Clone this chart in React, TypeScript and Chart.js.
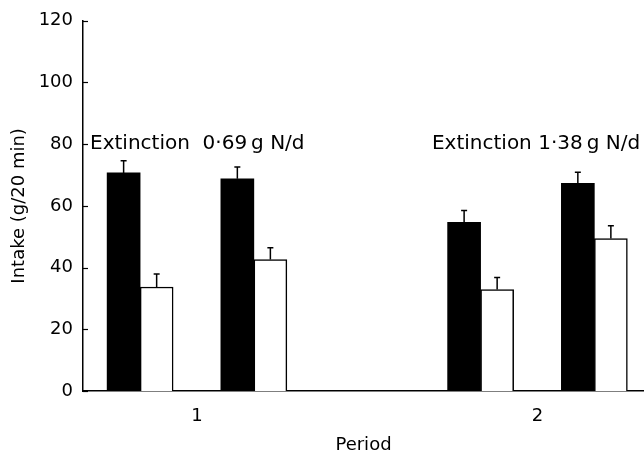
import React, { useEffect, useRef } from "react";
import { Chart, registerables } from "chart.js";

Chart.register(...registerables);

// ---- data ----
const periodLabels = ["1", "2"];
const periodValues = [1, 2];
// two pairs of bars in each period: [period1-left, period1-right, period2-left, period2-right]
const filledMeans = [70.7, 68.8, 54.7, 67.3];
const filledErrors = [3.9, 3.8, 3.8, 3.6];
const openMeans = [33.7, 42.6, 32.9, 49.4];
const openErrors = [4.2, 3.8, 3.9, 4.2];
const annotationTexts = ["Extinction  0·69\u2009g N/d", "Extinction 1·38\u2009g N/d"];
const annotationX = [0.6858, 1.69];
const annotationLevel = 80;

// layout constants (offsets of bars around each period position)
const pairCentre = [-0.167, 0.167];
const halfBar = 0.0485;

const FONT = '"DejaVu Sans", sans-serif';

function barPoints(means: number[], side: number) {
  return means.map((m, i) => {
    const p = periodValues[Math.floor(i / 2)];
    const pair = i % 2;
    return { x: p + pairCentre[pair] + side * halfBar, y: m };
  });
}

const errorBarPlugin = {
  id: "errorBars",
  afterDatasetsDraw(chart: any) {
    const ctx = chart.ctx;
    const y = chart.scales.y;
    ctx.save();
    ctx.strokeStyle = "#000";
    ctx.lineWidth = 1.5;
    chart.data.datasets.forEach((ds: any, di: number) => {
      const meta = chart.getDatasetMeta(di);
      meta.data.forEach((el: any, i: number) => {
        const top = y.getPixelForValue(ds.data[i].y + ds.errors[i]);
        ctx.beginPath();
        ctx.moveTo(el.x, el.y);
        ctx.lineTo(el.x, top);
        ctx.moveTo(el.x - 3, top);
        ctx.lineTo(el.x + 3, top);
        ctx.stroke();
      });
    });
    ctx.restore();
  },
};

const axisDecorPlugin = {
  id: "axisDecor",
  afterDraw(chart: any) {
    const ctx = chart.ctx;
    const y = chart.scales.y;
    const x = chart.scales.x;
    const area = chart.chartArea;
    ctx.save();
    ctx.strokeStyle = "#000";
    ctx.lineWidth = 1.2;
    y.ticks.forEach((t: any) => {
      const py = Math.round(y.getPixelForValue(t.value)) + 0.5;
      ctx.beginPath();
      ctx.moveTo(area.left, py);
      ctx.lineTo(area.left + 5, py);
      ctx.stroke();
    });
    ctx.fillStyle = "#000";
    ctx.font = "20px " + FONT;
    ctx.textAlign = "left";
    ctx.textBaseline = "middle";
    annotationTexts.forEach((txt, i) => {
      ctx.fillText(txt, x.getPixelForValue(annotationX[i]), y.getPixelForValue(annotationLevel));
    });
    ctx.restore();
  },
};

export default function App() {
  const ref = useRef<HTMLCanvasElement | null>(null);

  useEffect(() => {
    if (!ref.current) return;
    const chart = new Chart(ref.current, {
      type: "bar",
      data: {
        datasets: [
          {
            label: "Filled",
            data: barPoints(filledMeans, -1),
            errors: filledErrors,
            backgroundColor: "#000",
            borderColor: "#000",
            borderWidth: 0,
            barThickness: 33,
            grouped: false,
          } as any,
          {
            label: "Open",
            data: barPoints(openMeans, 1),
            errors: openErrors,
            backgroundColor: "#fff",
            borderColor: "#000",
            borderWidth: 1.5,
            borderSkipped: "start",
            barThickness: 33,
            grouped: false,
          } as any,
        ],
      },
      options: {
        responsive: false,
        animation: false,
        layout: { padding: { top: 16, left: 0, right: 0, bottom: 0 } },
        plugins: { legend: { display: false }, tooltip: { enabled: false } },
        scales: {
          x: {
            type: "linear",
            offset: false,
            min: 0.6652,
            max: 2.3128,
            afterBuildTicks: (scale: any) => {
              scale.ticks = periodValues.map((v) => ({ value: v }));
            },
            afterFit: (scale: any) => {
              scale.height = 65;
            },
            ticks: {
              callback: (v: any) => periodLabels[periodValues.indexOf(Number(v))] ?? "",
              font: { family: FONT, size: 18 },
              color: "#000",
              padding: 15,
              maxRotation: 0,
            },
            grid: { display: false, drawTicks: false },
            border: { display: true, color: "#000", width: 1.5 },
            title: {
              display: true,
              text: "Period",
              font: { family: FONT, size: 18 },
              color: "#000",
              padding: { top: 0, bottom: 0 },
            },
          },
          y: {
            min: 0,
            max: 120,
            afterFit: (scale: any) => {
              scale.width = 83;
            },
            ticks: {
              stepSize: 20,
              font: { family: FONT, size: 18 },
              color: "#000",
              padding: 10,
            },
            grid: { display: false, drawTicks: false },
            border: { display: true, color: "#000", width: 1.5 },
            title: {
              display: true,
              text: "Intake (g/20 min)",
              font: { family: FONT, size: 18 },
              color: "#000",
              padding: { top: 9, bottom: 0 },
            },
          },
        },
      } as any,
      plugins: [errorBarPlugin, axisDecorPlugin],
    });
    return () => chart.destroy();
  }, []);

  return (
    <div style={{ position: "absolute", left: 0, top: 0, width: 644, height: 456, background: "#fff" }}>
      <canvas ref={ref} width={644} height={456} style={{ width: 644, height: 456 }} />
    </div>
  );
}
